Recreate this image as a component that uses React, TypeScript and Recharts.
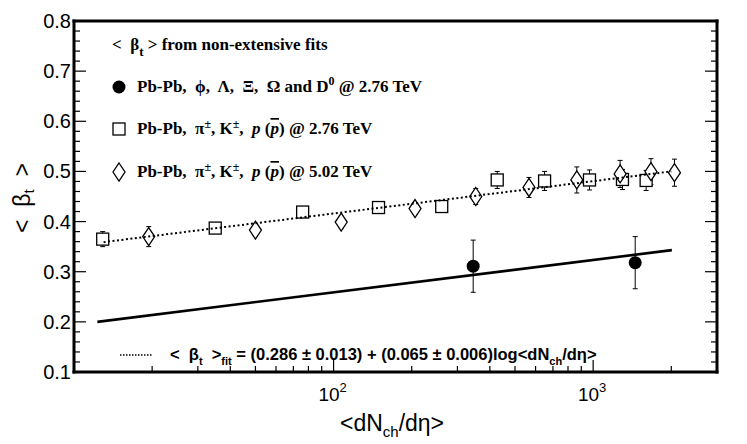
import React from 'react';
import { ComposedChart, Scatter, XAxis, YAxis, ErrorBar } from 'recharts';

// Pb-Pb phi, Lambda, Xi, Omega and D0 @ 2.76 TeV (filled circles)
const strangeX = [345, 1452];
const strangeY = [0.311, 0.318];
const strangeErr = [0.052, 0.052];

// Pb-Pb pi, K, p @ 2.76 TeV (open squares)
const lhc276X = [12.9, 35, 76, 149, 261, 427, 650, 968, 1297, 1600];
const lhc276Y = [0.365, 0.387, 0.419, 0.428, 0.43, 0.483, 0.481, 0.483, 0.484, 0.482];
const lhc276Err = [0.015, 0.008, 0.008, 0.008, 0.008, 0.017, 0.019, 0.02, 0.02, 0.02];

// Pb-Pb pi, K, p @ 5.02 TeV (open diamonds)
const lhc502X = [19.4, 50, 107, 206, 353, 566, 865, 1270, 1670, 2057];
const lhc502Y = [0.37, 0.383, 0.399, 0.426, 0.45, 0.468, 0.483, 0.495, 0.4995, 0.4975];
const lhc502Err = [0.02, 0.012, 0.012, 0.012, 0.016, 0.02, 0.026, 0.027, 0.026, 0.027];

// fit lines (end points)
const fitX = [13, 2000];
const fitY = [0.359, 0.5];
const strangeFitX = [12.3, 2010];
const strangeFitY = [0.2, 0.343];

const xTicks = [20, 30, 40, 50, 60, 70, 80, 90, 100, 200, 300, 400, 500, 600, 700, 800, 900, 1000, 2000];
const yTicks = [
  0.1, 0.12, 0.14, 0.16, 0.18, 0.2, 0.22, 0.24, 0.26, 0.28, 0.3, 0.32, 0.34, 0.36, 0.38,
  0.4, 0.42, 0.44, 0.46, 0.48, 0.5, 0.52, 0.54, 0.56, 0.58, 0.6, 0.62, 0.64, 0.66, 0.68,
  0.7, 0.72, 0.74, 0.76, 0.78, 0.8,
];

const toPoints = (xs: number[], ys: number[], errs?: number[]) =>
  xs.map((x, i) => ({ x, y: ys[i], err: errs ? errs[i] : 0 }));

const strangeData = toPoints(strangeX, strangeY, strangeErr);
const lhc276Data = toPoints(lhc276X, lhc276Y, lhc276Err);
const lhc502Data = toPoints(lhc502X, lhc502Y, lhc502Err);
const fitData = toPoints(fitX, fitY);
const strangeFitData = toPoints(strangeFitX, strangeFitY);

const SANS = '"Liberation Sans", Arial, sans-serif';
const SERIF = '"Liberation Serif", "Times New Roman", serif';
const pre = { whiteSpace: 'pre' as const };

const isDecade = (v: number) => Math.abs(Math.log10(v) - Math.round(Math.log10(v))) < 1e-9;
const isMajorY = (v: number) => Math.abs(v * 10 - Math.round(v * 10)) < 1e-6;

const BottomTick = ({ x, y, payload }: any) => {
  const v = payload.value;
  const major = isDecade(v);
  return (
    <g>
      <line x1={x} x2={x} y1={y} y2={y - (major ? 12 : 6)} stroke="#000" strokeWidth={1.2} />
      {major && (
        <text x={x - 1} y={y + 29} textAnchor="middle" fontSize={19} fontFamily={SANS} fill="#000">
          10
          <tspan dy={-9} fontSize={13}>{Math.round(Math.log10(v))}</tspan>
        </text>
      )}
    </g>
  );
};

const TopTick = ({ x, y, payload }: any) => {
  const major = isDecade(payload.value);
  return <line x1={x} x2={x} y1={y} y2={y + (major ? 12 : 6)} stroke="#000" strokeWidth={1.2} />;
};

const LeftTick = ({ x, y, payload }: any) => {
  const v = payload.value;
  const major = isMajorY(v);
  return (
    <g>
      <line x1={x} x2={x + (major ? 12 : 6)} y1={y} y2={y} stroke="#000" strokeWidth={1.2} />
      {major && (
        <text x={x - 3} y={y + 7} textAnchor="end" fontSize={20} fontFamily={SANS} fill="#000">
          {v.toFixed(1)}
        </text>
      )}
    </g>
  );
};

const RightTick = ({ x, y, payload }: any) => {
  const major = isMajorY(payload.value);
  return <line x1={x} x2={x - (major ? 12 : 6)} y1={y} y2={y} stroke="#000" strokeWidth={1.2} />;
};

const Dot = (p: any) => <circle cx={p.cx} cy={p.cy} r={6.5} fill="#000" />;
const Box = (p: any) => (
  <rect x={p.cx - 6} y={p.cy - 6} width={12} height={12} fill="#fff" stroke="#000" strokeWidth={1.3} />
);
const Rhomb = (p: any) => (
  <path
    d={`M${p.cx},${p.cy - 9}L${p.cx + 6},${p.cy}L${p.cx},${p.cy + 9}L${p.cx - 6},${p.cy}Z`}
    fill="#fff"
    stroke="#000"
    strokeWidth={1.3}
  />
);
const NoShape = () => <g />;

const frame = { stroke: '#000', strokeWidth: 3, strokeLinecap: 'square' as const };

const PionKaonProton = ({ y, energy }: { y: number; energy: string }) => (
  <text x={137} y={y} style={pre}>
    {'Pb-Pb,  π'}
    <tspan dy={-6} fontSize={12}>±</tspan>
    <tspan dy={6}>{', K'}</tspan>
    <tspan dy={-6} fontSize={12}>±</tspan>
    <tspan dy={6}>{',  '}</tspan>
    <tspan fontStyle="italic">p</tspan>
    {' ('}
    <tspan fontStyle="italic" textDecoration="overline">p</tspan>
    {`) @ ${energy} TeV`}
  </text>
);

export default function App() {
  return (
    <div style={{ position: 'absolute', left: 0, top: 0, width: 747, height: 444, background: '#fff' }}>
      <ComposedChart width={747} height={444} margin={{ top: 20, right: 29, bottom: 0, left: 0 }}>
        <XAxis
          dataKey="x"
          type="number"
          scale="log"
          domain={[10, 3000]}
          allowDataOverflow
          ticks={xTicks}
          interval={0}
          height={72}
          tickSize={0}
          tickMargin={0}
          tickLine={false}
          axisLine={frame}
          tick={<BottomTick />}
        />
        <XAxis
          xAxisId="top"
          orientation="top"
          type="number"
          scale="log"
          domain={[10, 3000]}
          allowDataOverflow
          ticks={xTicks}
          interval={0}
          height={1}
          tickSize={0}
          tickMargin={0}
          tickLine={false}
          axisLine={frame}
          tick={<TopTick />}
        />
        <YAxis
          dataKey="y"
          type="number"
          domain={[0.1, 0.8]}
          allowDataOverflow
          ticks={yTicks}
          interval={0}
          width={74}
          tickSize={0}
          tickMargin={0}
          tickLine={false}
          axisLine={frame}
          tick={<LeftTick />}
        />
        <YAxis
          yAxisId="right"
          orientation="right"
          type="number"
          domain={[0.1, 0.8]}
          allowDataOverflow
          ticks={yTicks}
          interval={0}
          width={1}
          tickSize={0}
          tickMargin={0}
          tickLine={false}
          axisLine={frame}
          tick={<RightTick />}
        />
        <Scatter data={strangeData} shape={Dot} isAnimationActive={false}>
          <ErrorBar dataKey="err" direction="y" width={2.5} stroke="#000" strokeWidth={1} />
        </Scatter>
        <Scatter data={lhc276Data} shape={Box} isAnimationActive={false}>
          <ErrorBar dataKey="err" direction="y" width={2.5} stroke="#000" strokeWidth={1} />
        </Scatter>
        <Scatter data={lhc502Data} shape={Rhomb} isAnimationActive={false}>
          <ErrorBar dataKey="err" direction="y" width={2.5} stroke="#000" strokeWidth={1} />
        </Scatter>
        <Scatter
          data={fitData}
          shape={NoShape}
          line={{ stroke: '#000', strokeWidth: 2, strokeDasharray: '2 2.5' }}
          isAnimationActive={false}
        />
        <Scatter
          data={strangeFitData}
          shape={NoShape}
          line={{ stroke: '#000', strokeWidth: 2.6 }}
          isAnimationActive={false}
        />
      </ComposedChart>

      <svg
        width={747}
        height={444}
        style={{ position: 'absolute', left: 0, top: 0, pointerEvents: 'none' }}
      >
        {/* axis titles */}
        <text
          x={22}
          y={198}
          transform="rotate(-90, 22, 198)"
          textAnchor="middle"
          dominantBaseline="central"
          fontSize={23}
          fontFamily={SANS}
          style={pre}
        >
          {'<  β'}
          <tspan dy={6} fontSize={15}>t</tspan>
          <tspan dy={-6}>{'  >'}</tspan>
        </text>
        <text x={392} y={431} textAnchor="middle" fontSize={23} fontFamily={SANS}>
          {'<dN'}
          <tspan dy={6} fontSize={15}>ch</tspan>
          <tspan dy={-6}>/dη&gt;</tspan>
        </text>

        {/* legend */}
        <g fontFamily={SERIF} fontWeight="bold" fontSize={17}>
          <text x={112} y={50} style={pre}>
            {'<  β'}
            <tspan dy={6} fontSize={13}>t</tspan>
            <tspan dy={-6}>{' > from non-extensive fits'}</tspan>
          </text>

          <circle cx={119} cy={87} r={6.5} fill="#000" />
          <text x={137} y={92} style={pre}>
            {'Pb-Pb,  ϕ,  Λ,  Ξ,  Ω and D'}
            <tspan dy={-7} fontSize={12}>0</tspan>
            <tspan dy={7}>{' @ 2.76 TeV'}</tspan>
          </text>

          <rect x={113} y={123} width={12} height={12} fill="#fff" stroke="#000" strokeWidth={1.3} />
          <PionKaonProton y={134} energy="2.76" />

          <path d="M119,163L125,172L119,181L113,172Z" fill="#fff" stroke="#000" strokeWidth={1.3} />
          <PionKaonProton y={177} energy="5.02" />
        </g>

        {/* fit legend */}
        <line x1={120} x2={152} y1={355} y2={355} stroke="#000" strokeWidth={1.5} strokeDasharray="1.5 1.5" />
        <text x={170} y={360} fontFamily={SANS} fontWeight="bold" fontSize={16.5} style={pre}>
          {'<  β'}
          <tspan dy={5} fontSize={11}>t</tspan>
          <tspan dy={-5}>{'  >'}</tspan>
          <tspan dy={5} fontSize={11}>fit</tspan>
          <tspan dy={-5}>{' = (0.286 ± 0.013) + (0.065 ± 0.006)log<dN'}</tspan>
          <tspan dy={5} fontSize={11}>ch</tspan>
          <tspan dy={-5}>/dη&gt;</tspan>
        </text>
      </svg>
    </div>
  );
}
